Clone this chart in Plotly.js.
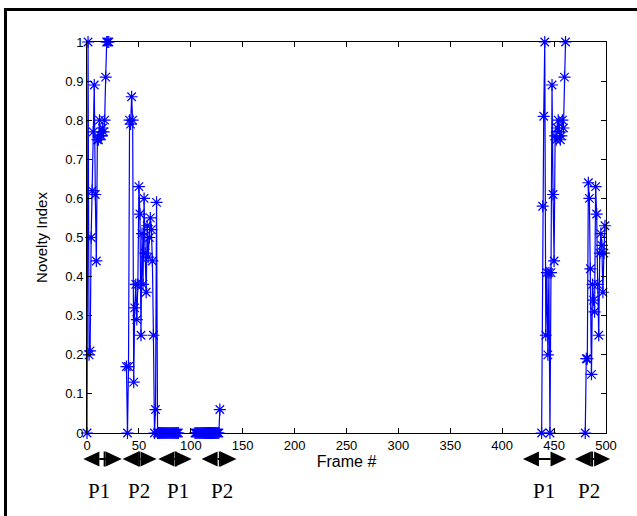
<!DOCTYPE html>
<html><head><meta charset="utf-8">
<script src="https://cdn.plot.ly/plotly-3.0.1.min.js"></script>
<style>
html,body{margin:0;padding:0;background:#fff;overflow:hidden}
#frame{position:absolute;left:4px;top:8px;width:660px;height:540px;border-left:3px solid #000;border-top:3px solid #000;pointer-events:none}
</style></head><body>
<div id="chart" style="width:637px;height:516px"></div>
<div id="frame"></div>
<script>
// Segment 1 (frames 0-21)
const framesA = [0,1,2,3,4,5,6,7,8,9,10,11,12,13,14,15,16,17,18,19,20,21];
const noveltyA = [0,1.0,0.20,0.21,0.50,0.62,0.77,0.89,0.61,0.44,0.75,0.75,0.80,0.76,0.76,0.78,0.77,0.80,0.91,1.0,1.0,1.0];
// Segment 2 (frames 38-88)
const framesB = [38,39,40,41,42,43,44,45,46,47,48,49,50,51,52,53,54,55,56,57,58,59,60,61,62,63,64,65,66,67,68,69,70,71,72,73,74,75,76,77,78,79,80,81,82,83,84,85,86,87,88];
const noveltyB = [0.17,0,0.17,0.80,0.79,0.86,0.80,0.13,0.32,0.38,0.29,0.38,0.63,0.56,0.25,0.51,0.38,0.60,0.46,0.36,0.53,0.45,0.50,0.55,0.52,0.44,0.25,0,0.06,0.59,0,0,0,0,0,0,0,0,0,0,0,0,0,0,0,0,0,0,0,0,0];
// Segment 3 (frames 104-128)
const framesC = [104,105,106,107,108,109,110,111,112,113,114,115,116,117,118,119,120,121,122,123,124,125,126,127,128];
const noveltyC = [0,0,0,0,0,0,0,0,0,0,0,0,0,0,0,0,0,0,0,0,0,0,0,0,0.06];
// Segment 4 (frames 438-461)
const framesD = [438,439,440,441,442,443,444,445,446,447,448,449,450,451,452,453,454,455,456,457,458,459,460,461];
const noveltyD = [0,0.58,0.81,1.0,0.25,0.41,0.20,0.41,0,0.41,0.89,0.61,0.44,0.76,0.75,0.78,0.80,0.77,0.75,0.76,0.80,0.78,0.91,1.0];
// Segment 5 (frames 480-499)
const framesE = [480,481,482,483,484,485,486,487,488,489,490,491,492,493,494,495,496,497,498,499];
const noveltyE = [0,0.19,0.19,0.64,0.60,0.42,0.15,0.38,0.34,0.31,0.63,0.56,0.38,0.25,0.46,0.51,0.48,0.36,0.46,0.53];

// Phase arrows below the axis (frame units)
const arrowStart = [-3.5, 34.3, 68.7, 110.4, 420, 470];
const arrowEnd   = [33.5, 67, 100.8, 144, 462, 504];
const arrowBar   = [17, 50.3, 85.4, 128, null, 486.6];
const labelText  = ['P1','P2','P1','P2','P1','P2'];
const labelFrame = [11.6, 50, 87.7, 130, 440, 483.6];

const xRange = [0, 500];
const plotW = 519, plotH = 391;

let xs = [], ys = [];
[[framesA,noveltyA],[framesB,noveltyB],[framesC,noveltyC],[framesD,noveltyD],[framesE,noveltyE]].forEach((s,i)=>{
  if(i>0){xs.push(null);ys.push(null);}
  xs = xs.concat(s[0]); ys = ys.concat(s[1]);
});

const px = f => (f - xRange[0])/(xRange[1]-xRange[0]);
const arrowY = -26/plotH;
const headL = 16/plotW, headH = 7.5/plotH;
const shapes = [];
arrowStart.forEach((s,i)=>{
  const a = px(s), b = px(arrowEnd[i]);
  shapes.push({type:'line', xref:'paper', yref:'paper', x0:a+headL, x1:b-headL, y0:arrowY, y1:arrowY, line:{color:'#000', width:2}});
  shapes.push({type:'path', xref:'paper', yref:'paper', path:`M ${a},${arrowY} L ${a+headL},${arrowY+headH} L ${a+headL},${arrowY-headH} Z`, fillcolor:'#000', line:{width:0}});
  shapes.push({type:'path', xref:'paper', yref:'paper', path:`M ${b},${arrowY} L ${b-headL},${arrowY+headH} L ${b-headL},${arrowY-headH} Z`, fillcolor:'#000', line:{width:0}});
  if(arrowBar[i]!==null){
    const c = px(arrowBar[i]);
    shapes.push({type:'line', xref:'paper', yref:'paper', x0:c, x1:c, y0:arrowY-headH, y1:arrowY+headH, line:{color:'#000', width:2}});
  }
});
const annotations = labelText.map((t,i)=>({
  text:t, xref:'paper', yref:'paper', x:px(labelFrame[i]), y:-58/plotH, showarrow:false,
  xanchor:'center', yanchor:'middle', font:{family:'Liberation Serif, Times New Roman, serif', size:21, color:'#000'}
}));

const trace = {
  x: xs, y: ys, type:'scatter', mode:'lines+markers', connectgaps:false,
  line:{color:'#0000ff', width:1.2},
  marker:{symbol:'asterisk-open', size:10, color:'#0000ff', line:{color:'#0000ff', width:1.2}},
  cliponaxis:false, hoverinfo:'none'
};
const axisFont = {family:'Liberation Sans, Arial, sans-serif', size:13, color:'#000'};
const layout = {
  width:637, height:516,
  margin:{l:87, r:31, t:42, b:83},
  paper_bgcolor:'#fff', plot_bgcolor:'#fff',
  showlegend:false,
  xaxis:{range:xRange, dtick:50, tick0:0, ticks:'inside', ticklen:5, tickcolor:'#000', mirror:'allticks', showline:true, linecolor:'#000', linewidth:1, showgrid:false, zeroline:false, tickfont:axisFont,
    title:{text:'Frame #', font:{family:'Liberation Sans, Arial, sans-serif', size:16, color:'#000'}, standoff:4}},
  yaxis:{range:[0,1], dtick:0.1, tick0:0, ticks:'inside', ticklen:5, tickcolor:'#000', mirror:'allticks', showline:true, linecolor:'#000', linewidth:1, showgrid:false, zeroline:false, tickfont:axisFont,
    title:{text:'Novelty Index', font:{family:'Liberation Sans, Arial, sans-serif', size:15, color:'#000'}, standoff:14}},
  shapes: shapes, annotations: annotations
};
Plotly.newPlot('chart', [trace], layout, {staticPlot:true, displayModeBar:false});
</script>
</body></html>
